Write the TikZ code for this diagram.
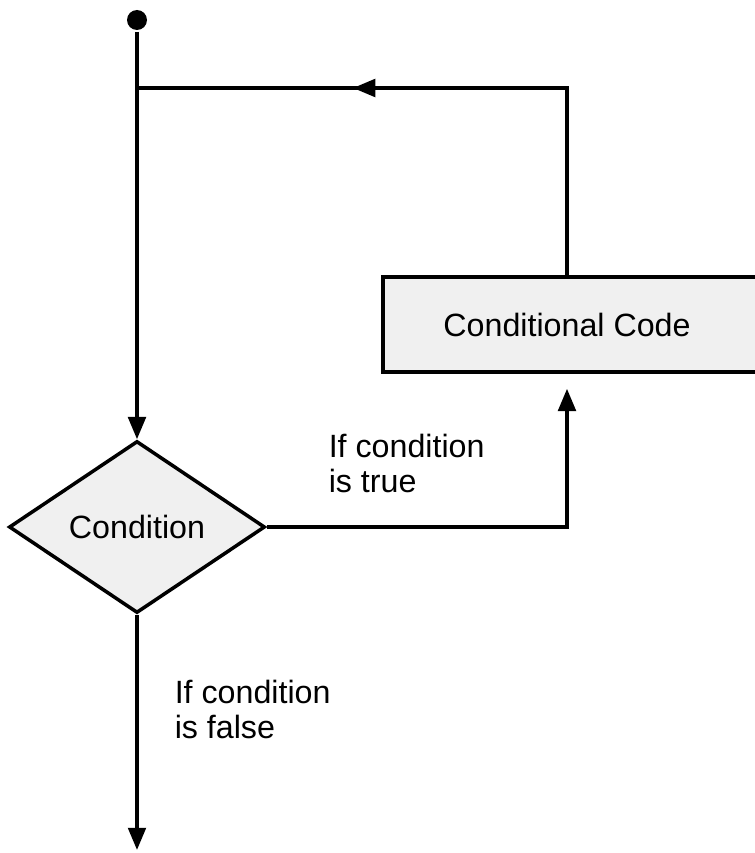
\documentclass[tikz,border=0pt]{standalone}
\usepackage{fontspec}
\setmainfont{Liberation Sans}
\usetikzlibrary{shapes,arrows.meta}

\begin{document}
\begin{tikzpicture}[x=0.3mm, y=-0.3mm, line width=3pt, >={Triangle[length=19pt, width=15pt]}, font=\fontsize{27.5}{30.6}\selectfont]
	\useasboundingbox (0,0) rectangle (755,853);
		\node[circle, fill, inner sep=0, minimum size=6mm] (Start) at (137,20) {};
		\coordinate (Join) at (137,88);
		\coordinate (TopRight) at (567,88);
		\coordinate (TopArrow) at (353,88);
		\node[draw, shape=diamond, fill=black!6, inner sep=0, minimum width=76.8mm, minimum height=51.6mm] (Condition) at (137,527) {
			Condition
		};
		\node[draw, fill=black!6, align=center, minimum width=113.1mm, minimum height=28.5mm] (CondCode) at (571.5,324.5) {
			Conditional Code
		};
		\coordinate (TrueCorner) at (567,527);
		\coordinate (End) at (137,850);
		\node[align=left, anchor=north west, inner sep=0] (TrueLabel) at (327,432) {
			If condition\\is true
		};
		\node[align=left, anchor=north west, inner sep=0] (FalseLabel) at (173,678) {
			If condition\\is false
		};
		\draw[->] (Start) -- (Condition.north);
		\draw (CondCode.north -| TopRight) -- (TopRight) -- (Join);
		\draw[->] (TopRight) -- (TopArrow);
		\draw[->, shorten >=4.5mm] (Condition.east) -- (TrueCorner) -- (CondCode.south -| TrueCorner);
		\draw[->] (Condition.south) -- (End);
\end{tikzpicture}
\end{document}
